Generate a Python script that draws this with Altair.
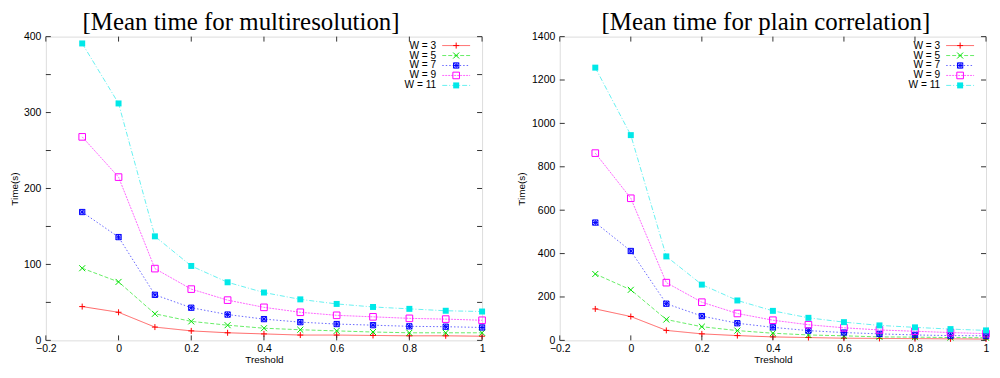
import altair as alt
import pandas as pd

# ---- data ----
treshold = [-0.1, 0.0, 0.1, 0.2, 0.3, 0.4, 0.5, 0.6, 0.7, 0.8, 0.9, 1.0]
series_names = ["W = 3", "W = 5", "W = 7", "W = 9", "W = 11"]

multi_w3 = [44.5, 37, 17.5, 12.5, 10, 8.5, 7, 7, 6.5, 6, 6, 5.5]
multi_w5 = [95, 77, 35, 25, 20, 16, 14, 12.5, 11, 10, 10, 10]
multi_w7 = [169, 136, 60, 43, 34, 28, 24, 21.5, 20, 18.5, 18, 17]
multi_w9 = [268, 215, 94.5, 67.5, 53, 43.5, 37, 33, 31, 29, 28, 26.5]
multi_w11 = [391, 312, 137, 98, 76.5, 63, 54, 48, 44, 41.5, 39, 38]

plain_w3 = [145, 110, 46, 30, 22, 16, 13, 10, 9, 8, 7, 6]
plain_w5 = [306, 233, 96, 63, 45, 33, 25, 21, 16, 15, 13, 12]
plain_w7 = [543, 412, 169, 112, 79, 60, 45, 36, 30, 25, 22, 21]
plain_w9 = [863, 655, 266, 176, 124, 93, 72, 58, 48, 42, 36, 31]
plain_w11 = [1257, 946, 387, 257, 184, 136, 104, 84, 69, 60, 52, 46]

x_ticks = [-0.2, 0.0, 0.2, 0.4, 0.6, 0.8, 1.0]
multi_y_ticks = [0, 50, 100, 150, 200, 250, 300, 350, 400]
plain_y_ticks = [0, 200, 400, 600, 800, 1000, 1200, 1400]

# ---- styles ----
colors = ["#ff0000", "#00e000", "#0000ff", "#ff00ff", "#00e8e8"]
dashes = [[1, 0], [4, 2], [1.5, 2], [2, 1], [5, 2, 1, 2]]
shapes = [
    "M-1,0L1,0M0,-1L0,1",
    "M-1,-1L1,1M-1,1L1,-1",
    "M-1,-1H1V1H-1ZM-1,-1L1,1M-1,1L1,-1M0,-1V1M-1,0H1",
    "M-1,-1H1V1H-1Z",
    "square",
]
filled = [False, False, False, False, True]
sizes = [36, 36, 28, 44, 36]

FONT = "Liberation Sans"
H = 305


def make_df(vals):
    rows = []
    for name, ys in zip(series_names, vals):
        for x, y in zip(treshold, ys):
            rows.append({"t": x, "v": y, "s": name})
    return pd.DataFrame(rows)


def panel(vals, yticks, ymax, W, title, title_dx, ytitle_pad):
    df = make_df(vals)
    xsc = alt.Scale(domain=[-0.2, 1.0], nice=False, zero=False)
    ysc = alt.Scale(domain=[0, ymax], nice=False)
    base = alt.Chart(df)
    layers = []
    # lines
    layers.append(
        base.mark_line(strokeWidth=1, opacity=0.6).encode(
            x=alt.X("t:Q", scale=xsc, axis=alt.Axis(
                title="Treshold", values=x_ticks, grid=False, ticks=False, domain=False,
                labelFontSize=10.5, labelFont=FONT, labelColor="#000", labelPadding=3,
                titleFont=FONT, titleFontSize=10, titleFontWeight="normal", titleColor="#000",
                titlePadding=1, labelFlush=False, format="~g")),
            y=alt.Y("v:Q", scale=ysc, axis=alt.Axis(
                title="Time(s)", values=yticks, grid=False, ticks=False, domain=False,
                labelFontSize=10.5, labelFont=FONT, labelColor="#000", labelPadding=5,
                titleFont=FONT, titleFontSize=10, titleFontWeight="normal", titleColor="#000",
                titlePadding=ytitle_pad, format="d")),
            color=alt.Color("s:N", scale=alt.Scale(domain=series_names, range=colors), legend=None),
            strokeDash=alt.StrokeDash("s:N", scale=alt.Scale(domain=series_names, range=dashes), legend=None),
        )
    )
    # points
    for i, name in enumerate(series_names):
        layers.append(
            base.transform_filter(alt.datum.s == name).mark_point(
                shape=shapes[i], filled=filled[i], size=sizes[i], strokeWidth=1,
                color=colors[i], opacity=1,
            ).encode(x=alt.X("t:Q", scale=xsc), y=alt.Y("v:Q", scale=ysc))
        )
    # inward ticks (gnuplot style, mirrored)
    xt = pd.DataFrame({"t": x_ticks})
    yt = pd.DataFrame({"v": yticks})
    tick_style = dict(color="#333", strokeWidth=1)
    layers.append(alt.Chart(xt).mark_rule(**tick_style).encode(
        x=alt.X("t:Q", scale=xsc), y=alt.value(H), y2=alt.value(H - 5)))
    layers.append(alt.Chart(xt).mark_rule(**tick_style).encode(
        x=alt.X("t:Q", scale=xsc), y=alt.value(0), y2=alt.value(5)))
    layers.append(alt.Chart(yt).mark_rule(**tick_style).encode(
        y=alt.Y("v:Q", scale=ysc), x=alt.value(0), x2=alt.value(5)))
    layers.append(alt.Chart(yt).mark_rule(**tick_style).encode(
        y=alt.Y("v:Q", scale=ysc), x=alt.value(W), x2=alt.value(W - 5)))
    # legend (gnuplot style: label then sample)
    leg = pd.DataFrame({"s": series_names})
    for i, name in enumerate(series_names):
        ly = 9 + 10 * i
        one = alt.Chart(leg).transform_filter(alt.datum.s == name)
        layers.append(one.mark_text(align="right", baseline="middle", font=FONT,
                                    fontSize=10.2, color="#000").encode(
            text="s:N", x=alt.value(W - 46), y=alt.value(ly)))
        layers.append(one.mark_rule(strokeWidth=1, opacity=0.6, color=colors[i],
                                    strokeDash=dashes[i]).encode(
            x=alt.value(W - 40), x2=alt.value(W - 12), y=alt.value(ly)))
        layers.append(one.mark_point(shape=shapes[i], filled=filled[i], size=sizes[i],
                                     strokeWidth=1, color=colors[i], opacity=1).encode(
            x=alt.value(W - 26), y=alt.value(ly)))
    return alt.layer(*layers).properties(
        width=W, height=H,
        title=alt.TitleParams(title, font="Liberation Serif", fontSize=25,
                              fontWeight="normal", color="#000", anchor="middle",
                              frame="group", dx=title_dx, offset=-3),
    )


left = panel([multi_w3, multi_w5, multi_w7, multi_w9, multi_w11], multi_y_ticks, 400,
             438, "[Mean time for multiresolution]", -23, 4)
right = panel([plain_w3, plain_w5, plain_w7, plain_w9, plain_w11], plain_y_ticks, 1400,
              428, "[Mean time for plain correlation]", -7, 5)

chart = alt.hconcat(left, right, spacing=28).properties(padding=0).configure_view(
    stroke="#666", strokeWidth=1
).configure(background="white")

chart.save("out.html", embed_options={"renderer": "svg", "actions": False})
